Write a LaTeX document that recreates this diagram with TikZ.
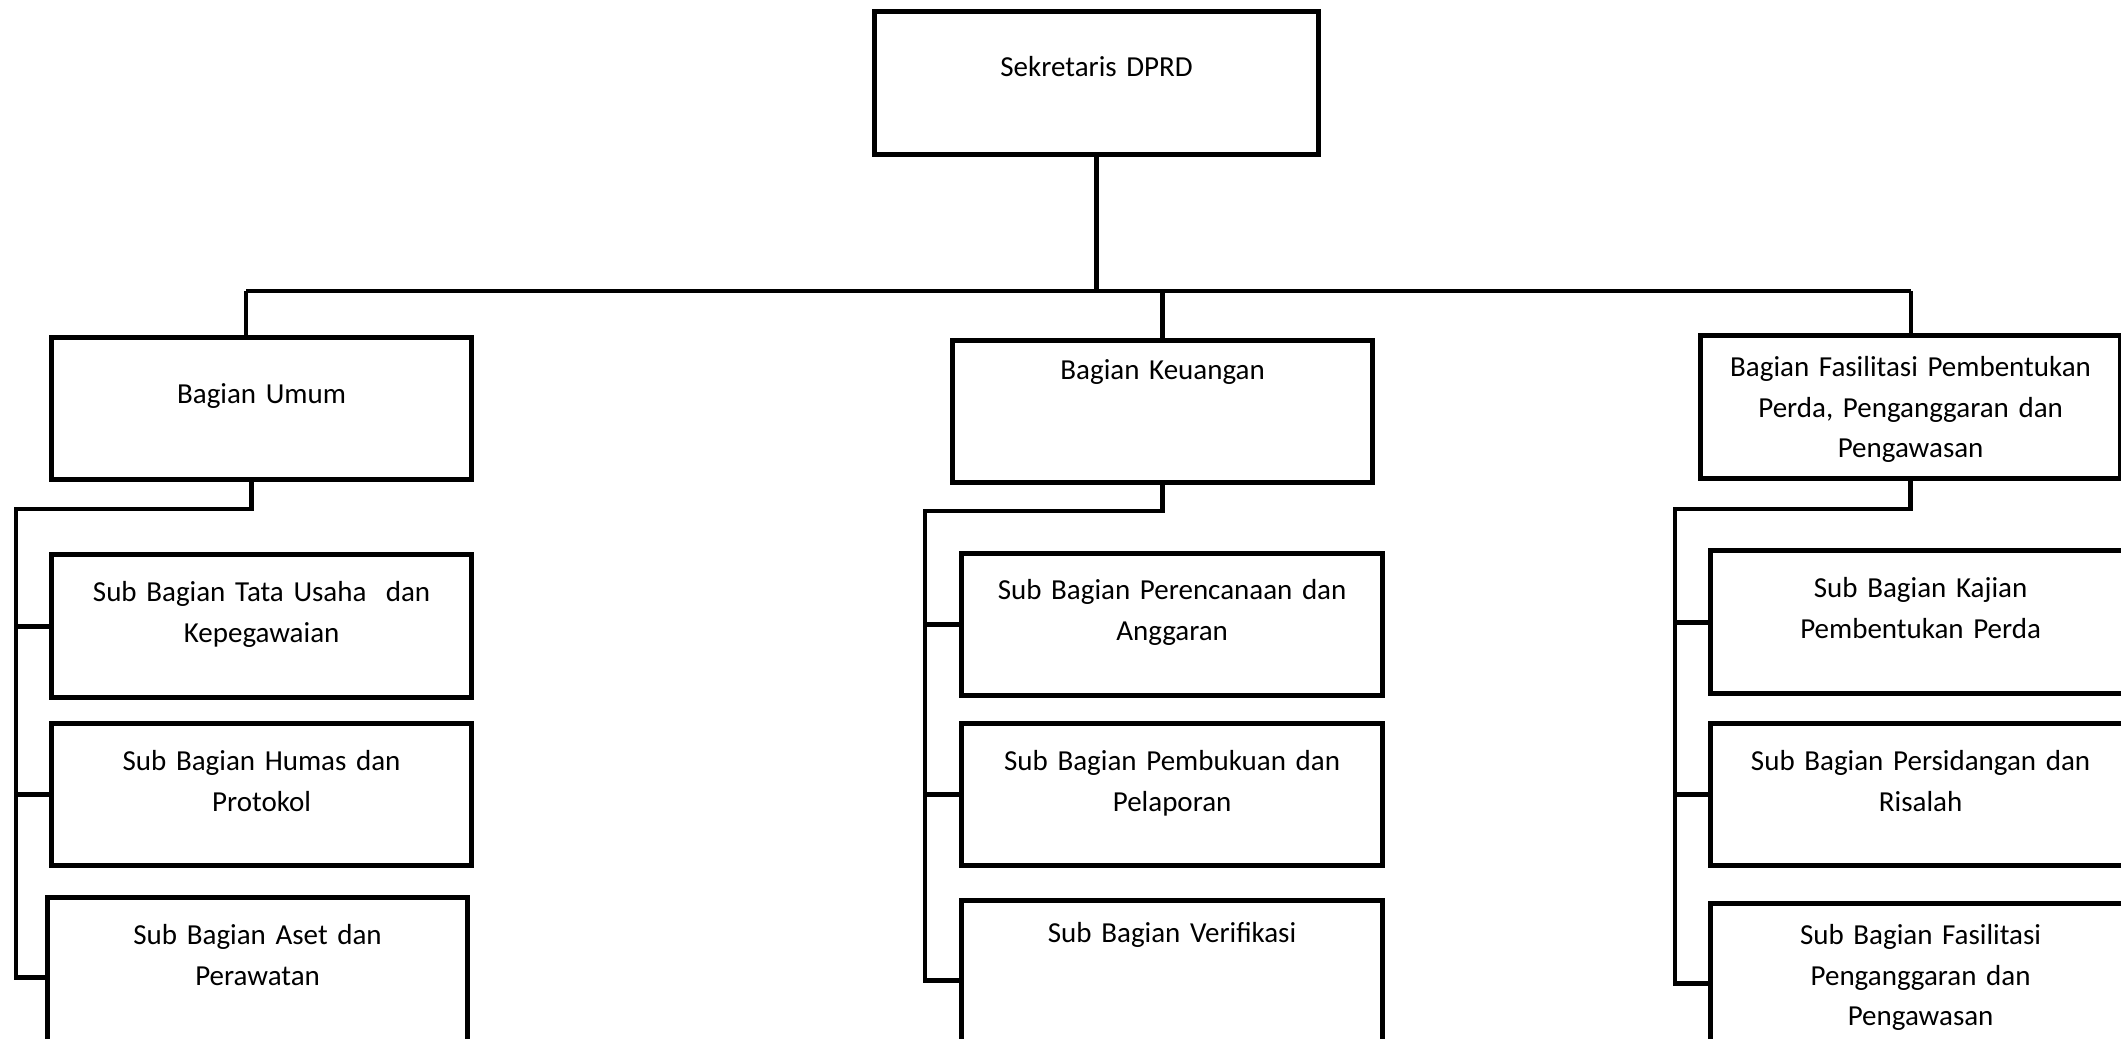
\documentclass[tikz,border=0pt]{standalone}
\usepackage{fontspec}
\setmainfont{Carlito}
\usetikzlibrary{positioning}

\begin{document}
\begin{tikzpicture}[
        x=0.5pt, y=-0.5pt,
        box/.style={draw, line width=2.6pt, inner xsep=0pt, inner ysep=0pt, anchor=north west,
            align=center, text width=210pt, text height=23.5pt, text depth=48pt,
            font=\fontsize{14.5}{20.3}\selectfont},
        conn/.style={line width=2.4pt}
    ]
        \useasboundingbox (0,0) rectangle (2121,1039);
        \clip (0,0) rectangle (2121,1039);

        % top
        \node[box, text width=222pt, text height=32.5pt, text depth=39pt] (sek) at (872,9) {Sekretaris DPRD};

        % bagian
        \node[box, text height=33pt, text depth=38pt] (umum) at (49,335) {Bagian Umum};
        \node[box, text height=19.5pt, text depth=51.5pt] (keu) at (950,338) {Bagian Keuangan};
        \node[box, text height=20.5pt, text depth=51pt] (fas) at (1698,333) {Bagian Fasilitasi Pembentukan\\Perda, Penganggaran dan\\Pengawasan};

        % sub bagian umum
        \node[box] (sa1) at (49,552) {Sub Bagian Tata Usaha\ \ dan\\Kepegawaian};
        \node[box, text depth=47.5pt] (sa2) at (49,721) {Sub Bagian Humas dan\\Protokol};
        \node[box, text depth=56.5pt] (sa3) at (45,895) {Sub Bagian Aset dan\\Perawatan};

        % sub bagian keuangan
        \node[box, text width=210.5pt, text height=23pt, text depth=48pt] (sb1) at (959,551) {Sub Bagian Perencanaan dan\\Anggaran};
        \node[box, text width=210.5pt, text depth=47.5pt] (sb2) at (959,721) {Sub Bagian Pembukuan dan\\Pelaporan};
        \node[box, text width=210.5pt, text height=21pt, text depth=59pt] (sb3) at (959,898) {Sub Bagian Verifikasi};

        % sub bagian fasilitasi
        \node[box] (sc1) at (1708,548) {Sub Bagian Kajian\\Pembentukan Perda};
        \node[box, text depth=47.5pt] (sc2) at (1708,721) {Sub Bagian Persidangan dan\\Risalah};
        \node[box, text height=20.5pt, text depth=59.5pt] (sc3) at (1708,901) {Sub Bagian Fasilitasi\\Penganggaran dan\\Pengawasan};

        % garis
        \coordinate (barL) at (246,291);
        \coordinate (barR) at (1911,291);
        \draw[conn] (sek.south) -- (sek.south |- barL);
        \draw[conn] (barL) -- (barR);
        \draw[conn] (barL) -- (barL |- umum.north);
        \draw[conn] (barR) -- (barR |- fas.north);
        \draw[conn] (keu.north |- barL) -- (keu.north);

        \coordinate (jL) at (16,509);
        \draw[conn] ([xshift=-5pt]umum.south) |- (jL) |- (sa3.west);
        \draw[conn] (jL |- sa1.west) -- (sa1.west);
        \draw[conn] (jL |- sa2.west) -- (sa2.west);

        \coordinate (jM) at (925,511);
        \draw[conn] (keu.south) |- (jM) |- (sb3.west);
        \draw[conn] (jM |- sb1.west) -- (sb1.west);
        \draw[conn] (jM |- sb2.west) -- (sb2.west);

        \coordinate (jR) at (1675,509);
        \draw[conn] (fas.south) |- (jR) |- (sc3.west);
        \draw[conn] (jR |- sc1.west) -- (sc1.west);
        \draw[conn] (jR |- sc2.west) -- (sc2.west);
    \end{tikzpicture}
\end{document}
